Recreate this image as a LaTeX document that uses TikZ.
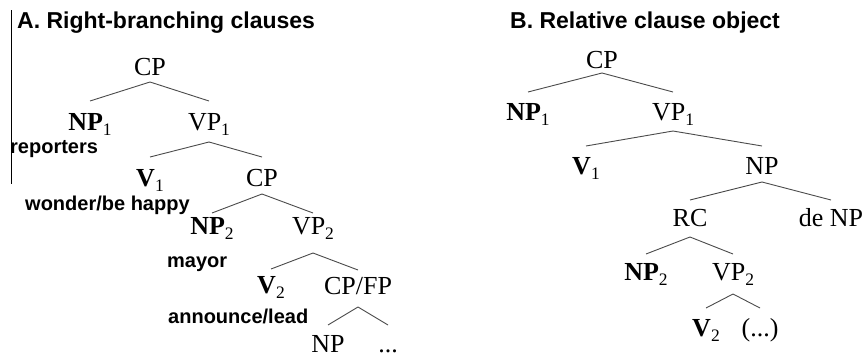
\documentclass[tikz,border=0pt]{standalone}
\usepackage{fontspec}
\setmainfont{Liberation Serif}
\newfontfamily\lblfont{Liberation Sans}
\usetikzlibrary{calc}
\newcommand\sbs[1]{\raisebox{-5pt}{\fontsize{17.5}{17.5}\selectfont #1}}
\newcommand\tbranch[5]{%
  \draw[treeline] ($(#2.base)+(0,#1)$) -- ($(#3.base)+(0,#5)$);
  \draw[treeline] ($(#2.base)+(0,#1)$) -- ($(#4.base)+(0,#5)$);}
\tikzset{
  cat/.style={inner sep=0pt, anchor=base, font=\fontsize{26}{26}\selectfont},
  lbl/.style={inner sep=0pt, anchor=base west, font=\lblfont\bfseries\fontsize{20}{20}\selectfont},
  ttl/.style={inner sep=0pt, anchor=base west, font=\lblfont\bfseries\fontsize{23}{23}\selectfont},
  treeline/.style={draw={rgb,255:red,75;green,75;blue,75}, line width=0.9pt},
}
\begin{document}
\begin{tikzpicture}[x=1pt,y=-1pt]
\useasboundingbox (0,0) rectangle (866,356);
\fill[white] (0,0) rectangle (866,356);
% panel A
\coordinate (vtop) at (11,10);
\coordinate (vbot) at (11,184);
\draw[line width=1pt] (vtop) -- (vbot);
\node[ttl] (tA) at (17,28) {A. Right-branching clauses};
\node[cat] (aCP) at (150,75) {CP};
\node[cat] (aNP1) at (90,130) {\textbf{NP}\sbs{1}};
\node[cat] (aVP1) at (209,130) {VP\sbs{1}};
\node[cat] (aV1) at (150,186) {\textbf{V}\sbs{1}};
\node[cat] (aCP2) at (262,186) {CP};
\node[cat] (aNP2) at (212,234) {\textbf{NP}\sbs{2}};
\node[cat] (aVP2) at (313,234) {VP\sbs{2}};
\node[cat] (aV2) at (271,293) {\textbf{V}\sbs{2}};
\node[cat] (aCPFP) at (358,294) {CP/FP};
\node[cat] (aNP) at (328,352) {NP};
\node[cat] (aDots) at (388,352) {...};
\node[lbl] (lrep) at (10,153) {reporters};
\node[lbl] (lwon) at (25,210) {wonder/be happy};
\node[lbl] (lmay) at (167,267) {mayor};
\node[lbl] (lann) at (168,323) {announce/lead};
\tbranch{7}{aCP}{aNP1}{aVP1}{-29}
\tbranch{12}{aVP1}{aV1}{aCP2}{-29}
\tbranch{8}{aCP2}{aNP2}{aVP2}{-21}
\tbranch{19}{aVP2}{aV2}{aCPFP}{-24}
\tbranch{13}{aCPFP}{aNP}{aDots}{-27}
% panel B
\node[ttl] (tB) at (510,28) {B. Relative clause object};
\node[cat] (bCP) at (602,68) {CP};
\node[cat] (bNP1) at (528,120) {\textbf{NP}\sbs{1}};
\node[cat] (bVP1) at (673,120) {VP\sbs{1}};
\node[cat] (bV1) at (586,174) {\textbf{V}\sbs{1}};
\node[cat] (bNP) at (762,174) {NP};
\node[cat] (bRC) at (690,226) {RC};
\node[cat] (bdeNP) at (831,226) {de NP};
\node[cat] (bNP2) at (646,280) {\textbf{NP}\sbs{2}};
\node[cat] (bVP2) at (733,280) {VP\sbs{2}};
\node[cat] (bV2) at (706,336) {\textbf{V}\sbs{2}};
\node[cat] (bEll) at (760,336) {(...)};
\tbranch{5}{bCP}{bNP1}{bVP1}{-28}
\tbranch{11}{bVP1}{bV1}{bNP}{-28}
\tbranch{8}{bNP}{bRC}{bdeNP}{-26}
\tbranch{11}{bRC}{bNP2}{bVP2}{-26}
\tbranch{14}{bVP2}{bV2}{bEll}{-28}
\end{tikzpicture}
\end{document}
